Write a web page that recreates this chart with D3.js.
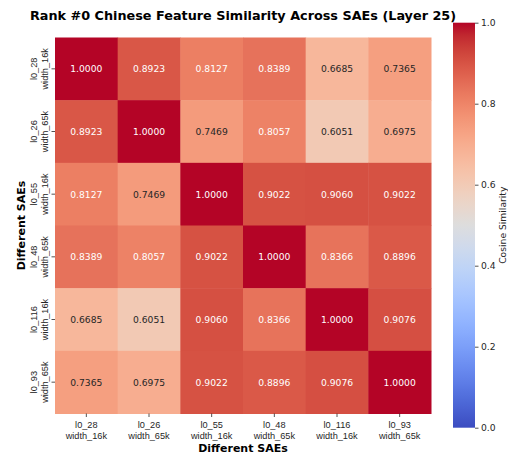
<!DOCTYPE html>
<html>
<head>
<meta charset="utf-8">
<script src="https://cdn.jsdelivr.net/npm/d3@7"></script>
<style>
  html, body { margin: 0; padding: 0; background: #ffffff; }
  svg { display: block; font-family: "DejaVu Sans", sans-serif; }
</style>
</head>
<body>
<svg id="chart" width="508" height="456"></svg>
<script>
// SAE identifiers (two-line tick labels)
const saeNames = ["l0_28", "l0_26", "l0_55", "l0_48", "l0_116", "l0_93"];
const saeWidths = ["width_16k", "width_65k", "width_16k", "width_65k", "width_16k", "width_65k"];

// Pairwise cosine similarity of the rank #0 Chinese feature
const similarity = [
  [1.0000, 0.8923, 0.8127, 0.8389, 0.6685, 0.7365],
  [0.8923, 1.0000, 0.7469, 0.8057, 0.6051, 0.6975],
  [0.8127, 0.7469, 1.0000, 0.9022, 0.9060, 0.9022],
  [0.8389, 0.8057, 0.9022, 1.0000, 0.8366, 0.8896],
  [0.6685, 0.6051, 0.9060, 0.8366, 1.0000, 0.9076],
  [0.7365, 0.6975, 0.9022, 0.8896, 0.9076, 1.0000]
];

// Colour bar ticks
const colorbarTicks = [0.0, 0.2, 0.4, 0.6, 0.8, 1.0];

// Diverging "coolwarm" control colours (Moreland), evenly spaced over [0, 1]
const coolwarmStops = [
  [59,76,192],[68,90,204],[77,104,215],[87,117,225],[98,130,234],[108,142,241],
  [119,154,247],[130,165,251],[141,176,254],[152,185,255],[163,194,255],[174,201,253],
  [184,208,249],[194,213,244],[204,217,238],[213,219,230],[221,221,221],[229,216,209],
  [236,211,197],[241,204,184],[245,196,172],[247,187,160],[247,177,148],[247,166,135],
  [244,154,123],[241,141,111],[236,127,99],[229,112,89],[222,96,77],[213,80,66],
  [203,62,56],[192,40,47],[180,4,38]
];

const coolwarm = d3.scaleLinear()
  .domain(coolwarmStops.map((_, i) => i / (coolwarmStops.length - 1)))
  .range(coolwarmStops.map(c => `rgb(${c[0]},${c[1]},${c[2]})`))
  .interpolate(d3.interpolateRgb)
  .clamp(true);

const color = d3.scaleLinear().domain([0, 1]).range([0, 1]);
const fill = v => coolwarm(color(v));

// Text colour chosen from the relative luminance of the cell colour
function textColor(v) {
  const c = d3.rgb(fill(v));
  const lin = x => { x /= 255; return x <= 0.03928 ? x / 12.92 : Math.pow((x + 0.055) / 1.055, 2.4); };
  const lum = 0.2126 * lin(c.r) + 0.7152 * lin(c.g) + 0.0722 * lin(c.b);
  return lum > 0.408 ? "#262626" : "#ffffff";
}

const svg = d3.select("#chart");

const plot = { left: 55, top: 37.5, size: 376 };
const idx = d3.range(saeNames.length);

const x = d3.scaleBand().domain(idx).range([plot.left, plot.left + plot.size]);
const y = d3.scaleBand().domain(idx).range([plot.top, plot.top + plot.size]);

// Heatmap cells
const cells = [];
similarity.forEach((row, r) => row.forEach((v, c) => cells.push({ r, c, v })));

svg.append("g")
  .selectAll("rect")
  .data(cells)
  .join("rect")
  .attr("x", d => x(d.c))
  .attr("y", d => y(d.r))
  .attr("width", x.bandwidth() + 0.5)
  .attr("height", y.bandwidth() + 0.5)
  .attr("fill", d => fill(d.v));

svg.append("g")
  .selectAll("text")
  .data(cells)
  .join("text")
  .attr("x", d => x(d.c) + x.bandwidth() / 2)
  .attr("y", d => y(d.r) + y.bandwidth() / 2)
  .attr("text-anchor", "middle")
  .attr("dominant-baseline", "central")
  .attr("font-size", 9.2)
  .attr("fill", d => textColor(d.v))
  .text(d => d.v.toFixed(4));

// Bottom axis
const xAxis = svg.append("g")
  .attr("transform", `translate(0,${plot.top + plot.size})`)
  .call(d3.axisBottom(x).tickSize(3.5).tickFormat(() => ""));
xAxis.select(".domain").remove();
xAxis.selectAll(".tick line").attr("stroke", "#262626").attr("stroke-width", 0.8);
xAxis.selectAll(".tick").each(function (i) {
  const t = d3.select(this).append("text")
    .attr("fill", "#262626")
    .attr("font-size", 9.2)
    .attr("text-anchor", "middle");
  t.append("tspan").attr("x", 0).attr("y", 14).text(saeNames[i]);
  t.append("tspan").attr("x", 0).attr("y", 25.5).text(saeWidths[i]);
});

// Left axis
const yAxis = svg.append("g")
  .attr("transform", `translate(${plot.left},0)`)
  .call(d3.axisLeft(y).tickSize(3.5).tickFormat(() => ""));
yAxis.select(".domain").remove();
yAxis.selectAll(".tick line").attr("stroke", "#262626").attr("stroke-width", 0.8);
yAxis.selectAll(".tick").each(function (i) {
  const t = d3.select(this).append("text")
    .attr("fill", "#262626")
    .attr("font-size", 9.2)
    .attr("text-anchor", "middle")
    .attr("transform", "rotate(-90)");
  t.append("tspan").attr("x", 0).attr("y", -18).text(saeNames[i]);
  t.append("tspan").attr("x", 0).attr("y", -7).text(saeWidths[i]);
});

// Axis titles
svg.append("text")
  .attr("x", plot.left + plot.size / 2)
  .attr("y", 452)
  .attr("text-anchor", "middle")
  .attr("font-size", 11)
  .attr("font-weight", "bold")
  .attr("fill", "#000")
  .text("Different SAEs");

svg.append("text")
  .attr("transform", `translate(25,${plot.top + plot.size / 2}) rotate(-90)`)
  .attr("text-anchor", "middle")
  .attr("font-size", 11)
  .attr("font-weight", "bold")
  .attr("fill", "#000")
  .text("Different SAEs");

// Title
svg.append("text")
  .attr("x", plot.left + plot.size / 2)
  .attr("y", 19.5)
  .attr("text-anchor", "middle")
  .attr("font-size", 12.8)
  .attr("font-weight", "bold")
  .attr("fill", "#000")
  .text("Rank #0 Chinese Feature Similarity Across SAEs (Layer 25)");

// Colour bar
const cb = { left: 453, top: 22.7, width: 22, height: 405 };
const defs = svg.append("defs");
const grad = defs.append("linearGradient")
  .attr("id", "cbar")
  .attr("x1", 0).attr("y1", 1).attr("x2", 0).attr("y2", 0);
grad.selectAll("stop")
  .data(d3.range(0, 1.0001, 1 / 64))
  .join("stop")
  .attr("offset", d => d)
  .attr("stop-color", d => coolwarm(d));

svg.append("rect")
  .attr("x", cb.left)
  .attr("y", cb.top)
  .attr("width", cb.width)
  .attr("height", cb.height)
  .attr("fill", "url(#cbar)");

const cbScale = d3.scaleLinear().domain([0, 1]).range([cb.top + cb.height, cb.top]);
const cbAxis = svg.append("g")
  .attr("transform", `translate(${cb.left + cb.width},0)`)
  .call(d3.axisRight(cbScale).tickValues(colorbarTicks).tickSize(3.5).tickPadding(2.5).tickFormat(d3.format(".1f")));
cbAxis.select(".domain").remove();
cbAxis.selectAll(".tick line").attr("stroke", "#262626").attr("stroke-width", 0.8);
cbAxis.selectAll(".tick text")
  .attr("fill", "#262626")
  .attr("font-size", 9.2)
  .attr("font-family", "DejaVu Sans, sans-serif");

svg.append("text")
  .attr("transform", `translate(506,${cb.top + cb.height / 2}) rotate(-90)`)
  .attr("text-anchor", "middle")
  .attr("font-size", 9.2)
  .attr("fill", "#262626")
  .text("Cosine Similarity");
</script>
</body>
</html>
